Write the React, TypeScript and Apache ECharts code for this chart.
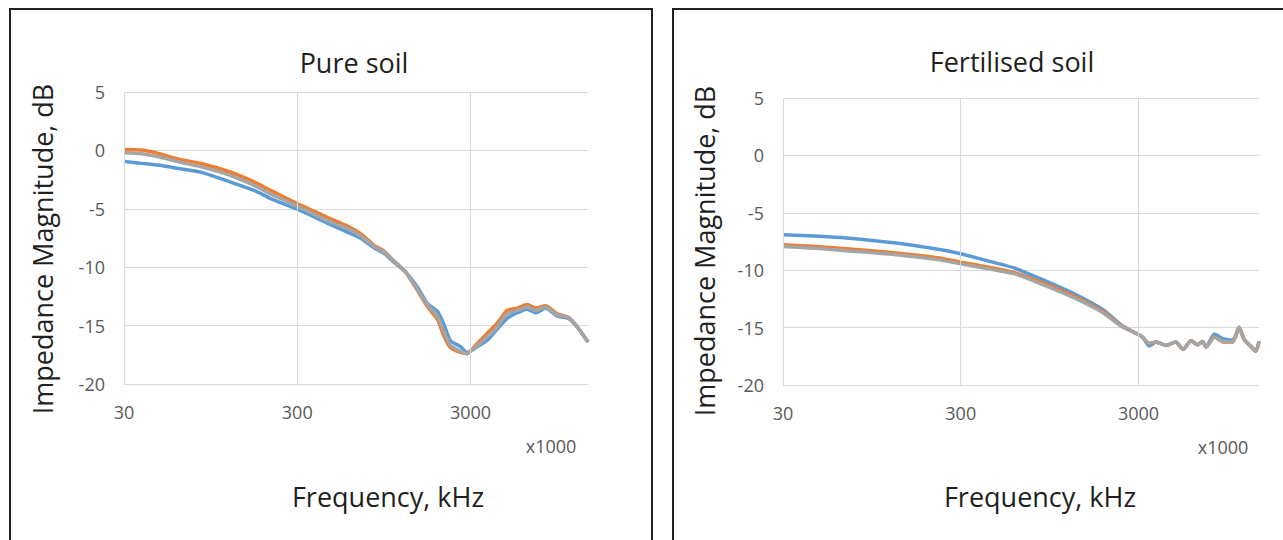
import React, { useEffect, useRef } from "react";
import * as echarts from "echarts";

// ---- data ----
const F0 = 30; // first tick of the log frequency axis (display units, x1000)
const FMAX = 14300; // last frequency of the sweep (display units)
const xTickValues = [30, 300, 3000];
const unitLabel = "x1000";
const yTicks = [-20, -15, -10, -5, 0, 5];
const titles = ["Pure soil", "Fertilised soil"];
const xTitle = "Frequency, kHz";
const yTitle = "Impedance Magnitude, dB";
const seriesNames = ["Sample 1", "Sample 2", "Sample 3"];
const colors = ["#5B9BD5", "#ED7D31", "#A5A5A5"];

const pureFreq = [30, 38, 48, 63, 85, 123, 169, 209, 300, 444, 607, 693, 846, 946, 1089, 1263, 1469, 1687, 1937, 2106, 2298, 2626, 2867, 3293, 3780, 4280, 4870, 5590, 6375, 7125, 8160, 9487, 11060, 12380, 14300];
const pureBlue = [-0.94, -1.11, -1.28, -1.57, -1.9, -2.7, -3.42, -4.1, -5.04, -6.2, -7.1, -7.5, -8.4, -8.8, -9.6, -10.4, -11.6, -13.1, -13.8, -14.9, -16.3, -16.8, -17.3, -16.8, -16.2, -15.3, -14.4, -13.9, -13.6, -13.9, -13.5, -14.2, -14.4, -15.1, -16.4];
const pureOrange = [0.08, 0.03, -0.28, -0.77, -1.14, -1.85, -2.7, -3.4, -4.56, -5.7, -6.6, -7.1, -8.2, -8.6, -9.5, -10.4, -11.9, -13.35, -14.5, -15.9, -16.9, -17.3, -17.4, -16.5, -15.6, -14.8, -13.7, -13.5, -13.2, -13.5, -13.3, -14.0, -14.3, -15.1, -16.4];
const pureGray = [-0.2, -0.29, -0.57, -1.0, -1.43, -2.14, -3.0, -3.7, -4.76, -5.98, -6.8, -7.3, -8.3, -8.7, -9.5, -10.4, -11.8, -13.2, -14.2, -15.5, -16.7, -17.2, -17.4, -16.7, -15.9, -15.1, -14.0, -13.7, -13.4, -13.7, -13.4, -14.1, -14.3, -15.1, -16.4];

const fertFreq = [30, 48, 68, 130, 228, 300, 454, 599, 866, 1280, 1893, 2440, 3000, 3177, 3441, 3777, 4280, 4870, 5340, 5930, 6460, 6880, 7200, 8030, 8950, 10170, 11060, 11800, 12800, 13720, 14300];
const fertBlue = [-6.91, -7.05, -7.2, -7.64, -8.2, -8.57, -9.3, -9.8, -10.83, -12.0, -13.45, -14.85, -15.6, -15.85, -16.6, -16.26, -16.55, -16.26, -16.9, -16.15, -16.5, -16.2, -16.7, -15.56, -15.97, -16.1, -14.98, -16.05, -16.6, -17.07, -16.2];
const fertOrange = [-7.78, -7.95, -8.13, -8.5, -8.94, -9.3, -9.8, -10.2, -11.1, -12.2, -13.6, -14.9, -15.6, -15.85, -16.4, -16.26, -16.55, -16.26, -16.9, -16.15, -16.5, -16.2, -16.7, -15.8, -16.25, -16.26, -14.98, -16.05, -16.6, -17.07, -16.2];
const fertGray = [-7.93, -8.1, -8.3, -8.65, -9.1, -9.45, -9.95, -10.3, -11.25, -12.35, -13.7, -14.95, -15.6, -15.85, -16.35, -16.26, -16.55, -16.26, -16.9, -16.15, -16.5, -16.2, -16.7, -15.85, -16.2, -16.26, -14.98, -16.05, -16.6, -17.07, -16.2];

// ---- helpers ----
const toX = (f: number) => Math.log10(f / F0);
const pairs = (fs: number[], vs: number[]) => fs.map((f, i) => [toX(f), vs[i]]);

const FONT = "Open Sans";
const DARK = "#1f1f1f";
const GRAY = "#595959";
const GRID = "#d9d9d9";

export default function App() {
  const ref = useRef<HTMLDivElement>(null);

  useEffect(() => {
    if (!ref.current) return;
    const chart = echarts.init(ref.current, undefined, { renderer: "svg" });

    const grids = [
      { left: 124, top: 92, width: 464, height: 292 },
      { left: 783, top: 98, width: 476, height: 287 },
    ];
    const datasets = [
      [pureBlue, pureOrange, pureGray].map((v) => pairs(pureFreq, v)),
      [fertBlue, fertOrange, fertGray].map((v) => pairs(fertFreq, v)),
    ];

    const xAxes = grids.map((_, i) => ({
      type: "value",
      gridIndex: i,
      min: 0,
      max: toX(FMAX),
      interval: 1,
      axisLine: { show: true, lineStyle: { color: GRID, width: 1 } },
      axisTick: { show: false },
      splitLine: { show: false },
      axisLabel: {
        margin: 19,
        color: GRAY,
        fontFamily: FONT,
        fontSize: 18,
        showMaxLabel: false,
        formatter: (v: number) =>
          Math.abs(v - Math.round(v)) < 1e-6 ? String(Math.round(F0 * Math.pow(10, Math.round(v)))) : "",
      },
    }));
    const yAxes = grids.map((_, i) => ({
      type: "value",
      gridIndex: i,
      min: yTicks[0],
      max: yTicks[yTicks.length - 1],
      interval: 5,
      axisLine: { show: false },
      axisTick: { show: false },
      splitLine: { show: true, lineStyle: { color: GRID, width: 1 } },
      axisLabel: { margin: 19, color: GRAY, fontFamily: FONT, fontSize: 18 },
    }));

    const series: any[] = [];
    grids.forEach((_, gi) => {
      series.push({
        type: "line",
        xAxisIndex: gi,
        yAxisIndex: gi,
        data: [],
        z: 1,
        silent: true,
        markLine: {
          silent: true,
          symbol: "none",
          label: { show: false },
          emphasis: { disabled: true },
          lineStyle: { color: GRID, width: 1, type: "solid" },
          data: xTickValues.map((f) => ({ xAxis: toX(f) })),
        },
      });
      datasets[gi].forEach((d, si) => {
        series.push({
          type: "line",
          name: seriesNames[si],
          xAxisIndex: gi,
          yAxisIndex: gi,
          data: d,
          showSymbol: false,
          smooth: 0.2,
          z: 2 + si,
          lineStyle: { color: colors[si], width: 3.5 },
          itemStyle: { color: colors[si] },
        });
      });
    });

    const txt = (text: string, x: number, y: number, size: number, color: string, rotation = 0) => ({
      type: "text",
      x,
      y,
      rotation,
      silent: true,
      style: {
        text,
        fill: color,
        font: `${size}px "${FONT}"`,
        textAlign: "center",
        textVerticalAlign: "middle",
      },
    });

    const graphic = [
      {
        type: "rect",
        shape: { x: 10, y: 9, width: 642, height: 600 },
        style: { fill: "none", stroke: "#222", lineWidth: 2 },
        silent: true,
      },
      {
        type: "rect",
        shape: { x: 673, y: 9, width: 700, height: 600 },
        style: { fill: "none", stroke: "#222", lineWidth: 2 },
        silent: true,
      },
      txt(titles[0], 354, 62, 27, DARK),
      txt(titles[1], 1012, 61, 27, DARK),
      txt(yTitle, 42, 249, 27, DARK, Math.PI / 2),
      txt(yTitle, 704, 251, 27, DARK, Math.PI / 2),
      txt(xTitle, 388, 496, 27, DARK),
      txt(xTitle, 1040, 496, 27, DARK),
      txt(unitLabel, 551, 446, 18, GRAY),
      txt(unitLabel, 1223, 447, 18, GRAY),
    ];

    chart.setOption({
      animation: false,
      backgroundColor: "#ffffff",
      grid: grids,
      xAxis: xAxes,
      yAxis: yAxes,
      series,
      graphic,
    });

    return () => chart.dispose();
  }, []);

  return (
    <div
      ref={ref}
      style={{ position: "absolute", left: 0, top: 0, width: 1283, height: 540 }}
    />
  );
}
